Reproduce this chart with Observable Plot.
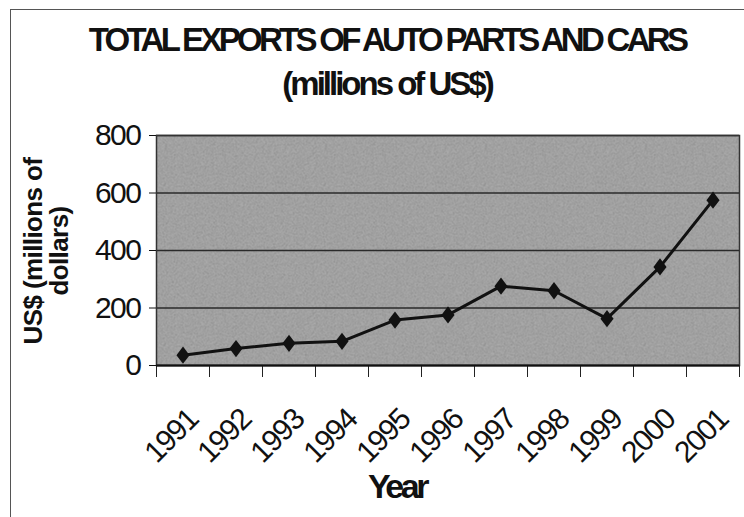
<!DOCTYPE html>
<html>
<head>
<meta charset="utf-8">
<script src="https://cdn.jsdelivr.net/npm/d3@7"></script>
<script src="https://cdn.jsdelivr.net/npm/@observablehq/plot@0.6"></script>
<style>
  html, body { margin: 0; padding: 0; background: #fff; }
  #wrap { position: relative; width: 744px; height: 517px; overflow: hidden; font-family: "Liberation Sans", Arial, sans-serif; }
  #wrap svg text { letter-spacing: -1.5px; }
  .ov { position: absolute; white-space: nowrap; color: #111; font-weight: bold; }
  #title, #subtitle { font-size: 33px; line-height: 32px; letter-spacing: -3.7px; transform: translateX(-50%); }
  #title { left: 387px; top: 24px; }
  #subtitle { left: 387px; top: 68px; letter-spacing: -3px; }
  #ylabel { font-size: 26px; line-height: 26px; text-align: center; width: 260px; height: 52px; left: -84px; top: 225px; transform: rotate(-90deg); letter-spacing: -0.6px; }
  #xlabel { font-size: 34px; line-height: 34px; letter-spacing: -3.5px; left: 397px; top: 469px; transform: translateX(-50%); }
  #border { position: absolute; left: 10px; top: 9px; width: 760px; height: 540px; border-top: 1.5px solid #555; border-left: 1.5px solid #555; }
</style>
</head>
<body>
<div id="wrap">
  <div id="border"></div>
  <div class="ov" id="title"></div>
  <div class="ov" id="subtitle"></div>
  <div class="ov" id="ylabel"></div>
  <div class="ov" id="xlabel"></div>
</div>
<script>
const titleText = "TOTAL EXPORTS OF AUTO PARTS AND CARS";
const subtitleText = "(millions of US$)";
const yLabelLines = ["US$ (millions of", "dollars)"];
const xLabelText = "Year";
const years = ["1991", "1992", "1993", "1994", "1995", "1996", "1997", "1998", "1999", "2000", "2001"];
const exportsValues = [36, 59, 77, 84, 158, 176, 276, 260, 163, 343, 575];
const yTicks = [0, 200, 400, 600, 800];

document.getElementById("title").textContent = titleText;
document.getElementById("subtitle").textContent = subtitleText;
document.getElementById("ylabel").innerHTML = yLabelLines.map(s => s.replace(/&/g, "&amp;")).join("<br>");
document.getElementById("xlabel").textContent = xLabelText;

const data = years.map((year, i) => ({year, i, value: exportsValues[i]}));

const tallDiamond = {
  draw(ctx, size) {
    const h = Math.sqrt(size / 1.52);
    const w = h * 0.76;
    ctx.moveTo(0, -h);
    ctx.lineTo(w, 0);
    ctx.lineTo(0, h);
    ctx.lineTo(-w, 0);
    ctx.closePath();
  }
};

const chart = Plot.plot({
  width: 744,
  height: 517,
  marginTop: 135,
  marginBottom: 152,
  marginLeft: 156,
  marginRight: 5,
  style: {fontFamily: "'Liberation Sans', Arial, sans-serif", background: "transparent", overflow: "visible", color: "#111"},
  x: {domain: [0, years.length], axis: null},
  y: {domain: [0, 800], axis: null},
  marks: [
    Plot.frame({fill: "#aaaaaa", stroke: null}),
    Plot.frame({fill: "url(#noisePattern)", stroke: null}),
    Plot.gridY(yTicks, {stroke: "#2a2a2a", strokeOpacity: 1, strokeWidth: 1.3}),
    Plot.frame({stroke: "#333", strokeWidth: 1.5}),
    Plot.axisY(yTicks, {tickSize: 7, tickPadding: 9, fontSize: 30, tickFormat: d => String(d), color: "#111", label: null}),
    Plot.axisX(d3.range(years.length + 1), {tickSize: 12, tickFormat: () => "", color: "#222", label: null}),
    Plot.axisX(d3.range(years.length).map(i => i + 0.5), {tickSize: 0, tickPadding: 49, tickRotate: -45, fontSize: 30, dx: 10, tickFormat: v => years[Math.floor(v)], color: "#111", label: null}),
    Plot.ruleY([0], {stroke: "#111", strokeWidth: 2}),
    Plot.line(data, {x: d => d.i + 0.5, y: "value", stroke: "#111", strokeWidth: 3}),
    Plot.dot(data, {x: d => d.i + 0.5, y: "value", symbol: tallDiamond, r: 6, fill: "#111", stroke: null})
  ]
});

// subtle paper-grain texture for the plot background
const ns = "http://www.w3.org/2000/svg";
const defs = document.createElementNS(ns, "defs");
defs.innerHTML = `
  <filter id="grain" x="0" y="0" width="100%" height="100%">
    <feTurbulence type="fractalNoise" baseFrequency="0.9" numOctaves="2" stitchTiles="stitch" result="t"/>
    <feColorMatrix type="matrix" values="0 0 0 0 0  0 0 0 0 0  0 0 0 0 0  0 0 0 1.2 -0.45"/>
  </filter>
  <pattern id="noisePattern" patternUnits="userSpaceOnUse" width="160" height="160">
    <rect width="160" height="160" fill="#000" filter="url(#grain)" opacity="0.35"/>
  </pattern>`;
chart.insertBefore(defs, chart.firstChild);
document.getElementById("wrap").appendChild(chart);
</script>
</body>
</html>
